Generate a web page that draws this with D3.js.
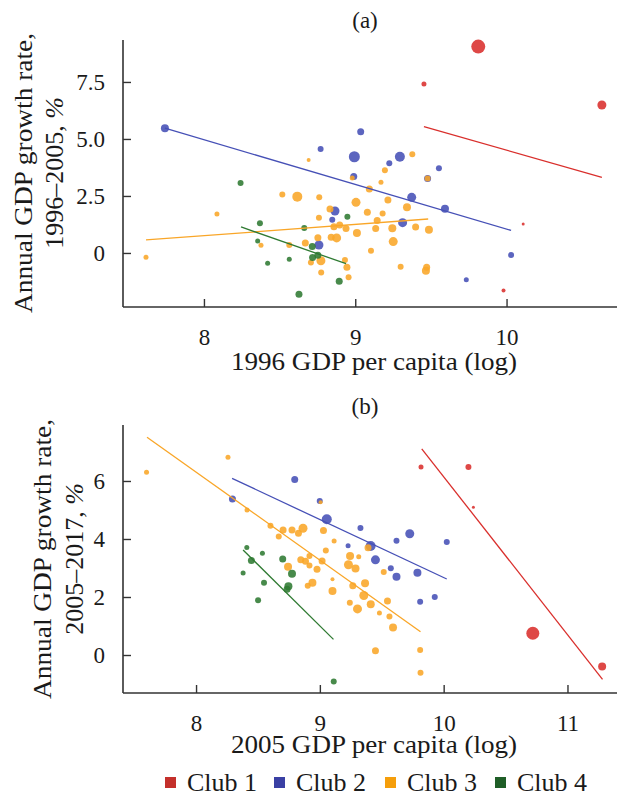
<!DOCTYPE html>
<html><head><meta charset="utf-8">
<script src="https://cdn.jsdelivr.net/npm/d3@7"></script>
<style>
body{margin:0;background:#fff;}
svg{display:block;}
text{font-family:"Liberation Serif","Times New Roman",serif;fill:#1a1a1a;}
</style></head>
<body>
<svg id="chart" width="621" height="800"></svg>
<script>
// ---------- DATA ----------
// each point: [log GDP per capita, annual growth %, weight]
const clubs = ["Club 1", "Club 2", "Club 3", "Club 4"];

const a_club1 = [[9.813,9.05,7],[9.454,7.41,2.5],[10.63,6.49,4.5],[10.11,1.27,1.5],[9.98,-1.65,2]];
const a_club2 = [[7.742,5.47,4],[9.036,5.32,3.5],[8.771,4.56,3],[8.994,4.22,5.5],[8.99,3.35,3.5],[9.295,4.22,5],[9.225,3.93,3],[9.553,3.71,3],[9.478,3.27,3.5],[9.373,2.44,4.5],[9.593,1.94,4],[9.313,1.33,4.5],[10.03,-0.09,3],[9.734,-1.18,2.5],[8.866,1.84,4.5],[8.848,1.46,3],[8.76,0.35,4.5]];
const a_club3 = [[7.617,-0.19,2.5],[8.086,1.71,2.5],[8.518,2.56,3],[8.617,2.47,5],[8.762,2.44,3],[8.692,4.08,2],[8.833,1.93,3.5],[8.76,1.54,3],[9.005,2.22,4.5],[9.08,1.79,3.5],[8.897,1.23,3.5],[8.859,1.15,3.5],[8.939,1.07,3.5],[9.011,0.88,4],[8.753,0.67,3.5],[8.841,0.69,3.5],[8.877,0.66,4.5],[8.67,0.44,3.5],[8.564,0.35,3],[8.377,0.34,2.5],[8.932,-0.31,3],[8.773,-0.34,4.5],[8.707,-0.42,3],[8.945,-0.63,3.5],[8.775,-0.86,3],[8.956,-1.07,3],[9.377,4.33,3],[9.196,3.63,3],[9.17,3.1,2.5],[9.093,2.81,3.5],[9.216,2.32,3.5],[9.342,2.0,4],[9.181,1.73,3],[9.145,1.42,3.5],[9.135,1.07,3.5],[9.245,1.08,4],[9.399,1.14,3.5],[9.487,1.02,4],[9.251,0.5,4.5],[9.104,0.1,3],[9.3,-0.6,3],[9.472,-0.63,3.5],[9.467,-0.78,4],[9.478,3.27,3],[8.98,3.29,2.5]];
const a_club4 = [[8.242,3.07,3],[8.37,1.3,3],[8.663,1.1,3],[8.948,1.59,3],[8.355,0.53,2.5],[8.716,0.28,3.5],[8.718,-0.2,3.5],[8.753,-0.1,3.5],[8.564,-0.28,2.5],[8.421,-0.45,2.5],[8.894,-1.24,3.5],[8.628,-1.81,3.5]];

const b_club1 = [[9.817,6.48,2.5],[10.2,6.48,3],[10.24,5.09,1.5],[10.72,0.75,6.5],[11.28,-0.4,4]];
const b_club2 = [[8.797,6.05,3.5],[8.294,5.38,3.5],[8.999,5.31,3],[9.056,4.68,5],[9.328,4.38,3],[9.228,3.77,2.5],[9.41,3.76,5],[9.726,4.18,4.5],[9.619,3.94,3],[10.025,3.9,3],[9.449,3.28,4.5],[9.573,2.99,3],[9.619,2.7,4],[9.788,2.84,4],[9.928,2.0,3],[9.81,1.84,3]];
const b_club3 = [[7.6,6.3,2.5],[8.258,6.82,2.5],[8.412,5.0,2.5],[8.601,4.46,3],[8.668,4.09,3],[8.703,4.31,3.5],[8.775,4.31,3.5],[8.827,4.2,3.5],[8.864,4.37,4.5],[9.029,4.29,3.5],[9.115,3.93,2.5],[9.048,3.6,3],[9.244,3.41,4],[9.314,3.39,2.5],[9.389,3.7,3.5],[8.743,3.04,4],[8.846,3.28,3.5],[8.884,3.23,3.5],[8.916,3.41,3],[8.916,3.09,3],[8.977,2.96,3.5],[9.018,3.24,3.5],[9.231,3.11,4.5],[9.288,2.98,4],[8.94,2.49,4],[8.902,2.39,3],[9.102,2.61,2],[9.102,2.21,4],[9.266,2.39,3.5],[9.242,1.8,3],[9.304,1.59,4.5],[9.365,2.47,4],[9.355,2.05,4.5],[9.516,2.86,3],[9.411,1.75,4],[9.546,1.86,3.5],[9.481,1.45,2.5],[9.562,1.33,3],[9.591,0.95,4],[9.449,0.15,3.5],[9.81,0.17,3],[9.813,-0.61,3],[9.006,5.27,2]];
const b_club4 = [[8.41,3.71,2.5],[8.536,3.51,2.5],[8.447,3.26,3.5],[8.7,3.31,3.5],[8.38,2.83,2.5],[8.775,2.8,4],[8.549,2.49,3],[8.746,2.37,4],[8.735,2.27,3.5],[8.501,1.89,3],[9.112,-0.91,3]];

// fitted trend lines per club: [x1, y1, x2, y2]
const a_fits = [[9.454,5.54,10.63,3.32],[7.742,5.47,10.03,0.99],[7.617,0.57,9.482,1.49],[8.245,1.14,8.939,-0.47]];
const b_fits = [[9.823,7.11,11.283,-0.84],[8.291,6.09,10.025,2.62],[7.604,7.51,9.813,0.8],[8.38,3.62,9.11,0.54]];

const a_xticks = [8, 9, 10];
const a_yticks = [0, 2.5, 5.0, 7.5];
const a_ytickLabels = ["0", "2.5", "5.0", "7.5"];
const b_xticks = [8, 9, 10, 11];
const b_yticks = [0, 2, 4, 6];
const b_ytickLabels = ["0", "2", "4", "6"];

// ---------- STYLE ----------
const pointColors = ["#d92f2c", "#4650b6", "#f9a628", "#2f7a32"];
const legendColors = ["#c4302b", "#3a40a4", "#f59e0b", "#1f5e27"];
const FONT = '"Liberation Serif","Times New Roman",serif';

const svg = d3.select("#chart");
const rScale = d3.scaleLinear().domain([0, 1]).range([0, 1]);

function panel(cfg) {
  const x = d3.scaleLinear().domain(cfg.xdom).range([123, 617]);
  const y = d3.scaleLinear().domain(cfg.ydom).range([cfg.bottom, cfg.top]);
  const g = svg.append("g");

  const yAxis = d3.axisLeft(y).tickValues(cfg.yticks).tickSize(-8).tickFormat((d, i) => cfg.ylabels[i]).tickPadding(18);
  const gy = g.append("g").attr("transform", "translate(123,0)").call(yAxis);
  const xAxis = d3.axisBottom(x).tickValues(cfg.xticks).tickSize(-8).tickFormat(d3.format("d")).tickPadding(22);
  const gx = g.append("g").attr("transform", `translate(0,${cfg.bottom})`).call(xAxis);
  [gx, gy].forEach(a => {
    a.attr("font-family", FONT);
    a.select(".domain").remove();
    a.selectAll(".tick line").attr("stroke", "#333").attr("stroke-width", 1.4);
    a.selectAll(".tick text").style("font-family", FONT).style("font-size", "23px").attr("fill", "#1a1a1a");
  });
  gy.selectAll(".tick text").attr("dy", "0.34em");
  gx.selectAll(".tick text").attr("dy", "0.68em");
  g.append("line").attr("x1", 123).attr("x2", 123).attr("y1", cfg.top).attr("y2", cfg.bottom).attr("stroke", "#333").attr("stroke-width", 1.6);
  g.append("line").attr("x1", 123).attr("x2", 617).attr("y1", cfg.bottom).attr("y2", cfg.bottom).attr("stroke", "#333").attr("stroke-width", 1.6);

  cfg.series.forEach((s, i) => {
    g.append("g").selectAll("circle").data(s).join("circle")
      .attr("cx", d => x(d[0])).attr("cy", d => y(d[1])).attr("r", d => rScale(d[2]))
      .attr("fill", pointColors[i]).attr("fill-opacity", 0.88);
  });
  cfg.fits.forEach((f, i) => {
    g.append("line").attr("x1", x(f[0])).attr("y1", y(f[1])).attr("x2", x(f[2])).attr("y2", y(f[3]))
      .attr("stroke", pointColors[i]).attr("stroke-width", 1.3);
  });

  svg.append("text").attr("x", 365).attr("y", cfg.titleY).attr("text-anchor", "middle").style("font-size", "23px").text(cfg.title);
  svg.append("text").attr("x", 374).attr("y", cfg.xlabelY).attr("text-anchor", "middle").style("font-size", "26px")
    .attr("textLength", 286).attr("lengthAdjust", "spacingAndGlyphs").text(cfg.xlabel);
  const yl = svg.append("g").attr("transform", `translate(${cfg.ylx1},${cfg.ylcy}) rotate(-90)`);
  yl.append("text").attr("x", 0).attr("y", 0).attr("text-anchor", "middle").style("font-size", "26px")
    .attr("textLength", 280).attr("lengthAdjust", "spacingAndGlyphs").text("Annual GDP growth rate,");
  const t2 = yl.append("text").attr("x", 0).attr("y", cfg.ylx2 - cfg.ylx1).attr("text-anchor", "middle").style("font-size", "26px");
  t2.append("tspan").text(cfg.period + ", ");
  t2.append("tspan").style("font-style", "italic").text("%");
}

panel({
  xdom: [7.465, 10.73], ydom: [-2.37, 9.34], top: 40, bottom: 307,
  xticks: a_xticks, yticks: a_yticks, ylabels: a_ytickLabels,
  series: [a_club1, a_club2, a_club3, a_club4], fits: a_fits,
  title: "(a)", titleY: 28, xlabel: "1996 GDP per capita (log)", xlabelY: 370,
  ylx1: 32, ylx2: 63, ylcy: 173, period: "1996–2005"
});
panel({
  xdom: [7.41, 11.4], ydom: [-1.31, 7.93], top: 425, bottom: 693,
  xticks: b_xticks, yticks: b_yticks, ylabels: b_ytickLabels,
  series: [b_club1, b_club2, b_club3, b_club4], fits: b_fits,
  title: "(b)", titleY: 414, xlabel: "2005 GDP per capita (log)", xlabelY: 753,
  ylx1: 51, ylx2: 83, ylcy: 559, period: "2005–2017"
});

const legX = [165, 274, 385, 495];
const lg = svg.append("g");
clubs.forEach((c, i) => {
  lg.append("rect").attr("x", legX[i]).attr("y", 777).attr("width", 11).attr("height", 11).attr("fill", legendColors[i]);
  lg.append("text").attr("x", legX[i] + 22).attr("y", 791).style("font-size", "26px").text(c);
});
</script>
</body></html>
